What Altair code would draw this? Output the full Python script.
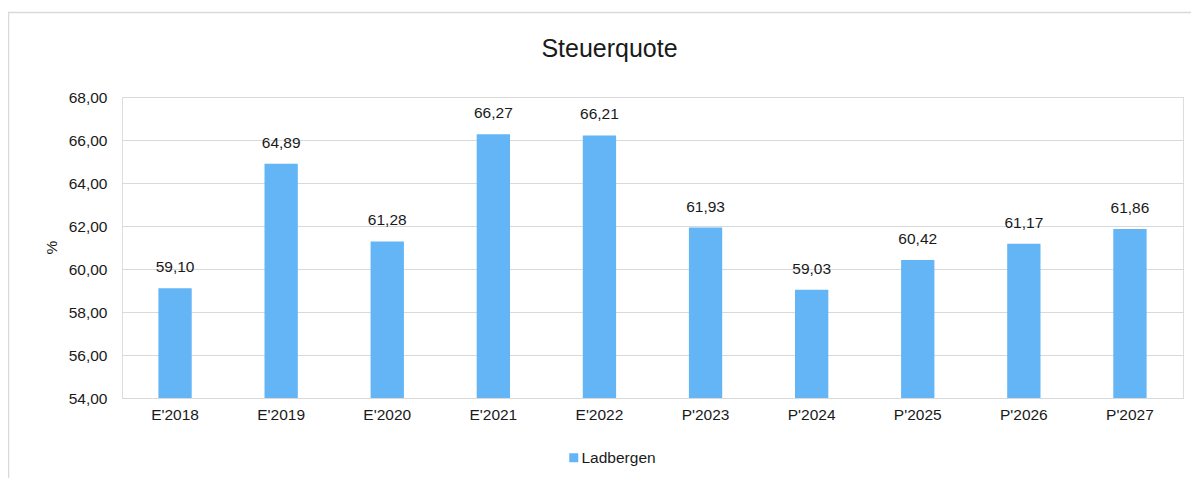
import altair as alt
import pandas as pd

jahre = ["E'2018", "E'2019", "E'2020", "E'2021", "E'2022",
         "P'2023", "P'2024", "P'2025", "P'2026", "P'2027"]
werte = [59.10, 64.89, 61.28, 66.27, 66.21, 61.93, 59.03, 60.42, 61.17, 61.86]
serie = ["Ladbergen"] * len(jahre)

df = pd.DataFrame({"jahr": jahre, "wert": werte, "serie": serie})

FONT = "Liberation Sans"
TXT = "#1a1a1a"
GRID = "#D9D9D9"
BLUE = "#64B5F6"

x_enc = alt.X("jahr:N", sort=jahre, title=None,
              scale=alt.Scale(paddingInner=0.686, paddingOuter=0.343),
              axis=alt.Axis(labelAngle=0, ticks=False, tickSize=0, labelPadding=9,
                            domainColor=GRID, labelFontSize=15.5, labelColor=TXT,
                            labelFont=FONT))
y_scale = alt.Scale(domain=[54, 68], nice=False, zero=False)

bars = alt.Chart(df).mark_bar(color=BLUE, clip=True).encode(
    x=x_enc,
    y=alt.Y("wert:Q", scale=y_scale, title="%",
            axis=alt.Axis(values=[54, 56, 58, 60, 62, 64, 66, 68],
                          labelExpr="replace(format(datum.value, '.2f'), '.', ',')",
                          domain=False, ticks=False, tickSize=0, labelPadding=15,
                          gridColor=GRID, labelFontSize=15.5, labelColor=TXT,
                          labelFont=FONT, titleFont=FONT, titleFontSize=15.5,
                          titleFontWeight="normal", titleColor=TXT,
                          titleX=-71, titleY=150, titleAngle=270,
                          titleAlign="center", titleBaseline="middle")),
    color=alt.Color("serie:N", scale=alt.Scale(range=[BLUE]),
                    legend=alt.Legend(title=None, orient="none", legendX=444,
                                      legendY=353, symbolType="square",
                                      symbolSize=81, symbolStrokeWidth=0,
                                      labelFontSize=15.5, labelFont=FONT,
                                      labelColor=TXT, padding=0, labelOffset=0)),
)

labels = alt.Chart(df).transform_calculate(
    txt="replace(format(datum.wert, '.2f'), '.', ',')"
).mark_text(baseline="middle", dy=-21, fontSize=15.5, font=FONT, color=TXT).encode(
    x=alt.X("jahr:N", sort=jahre),
    y=alt.Y("wert:Q", scale=y_scale),
    text="txt:N",
)

border = alt.Chart(alt.Data(values=[{"a": 1}])).mark_rect(
    fill=None, stroke=GRID, strokeWidth=1.5
).encode(
    x=alt.value(-113.5), x2=alt.value(1300),
    y=alt.value(-84.5), y2=alt.value(600),
)

chart = alt.layer(border, bars, labels).properties(
    width=1061, height=301,
    title=alt.Title("Steuerquote", fontSize=25, font=FONT, fontWeight="normal",
                    color=TXT, anchor="middle", dx=-43, dy=78, offset=28),
    autosize=alt.AutoSizeParams(type="none"),
    padding={"left": 114, "top": 89, "right": 8, "bottom": 80},
).configure_view(stroke=None).configure(background="white")

chart.save("out.html", embed_options={"renderer": "svg", "actions": False})
